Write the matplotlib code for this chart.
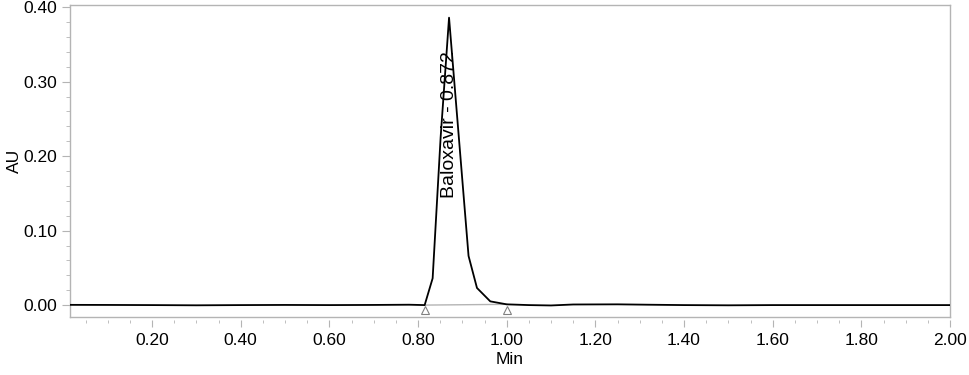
#!/usr/bin/env python3

import matplotlib
matplotlib.use("Agg")
import matplotlib.pyplot as plt
from matplotlib.ticker import MultipleLocator, FormatStrFormatter

plt.rcParams['font.family'] = ['Liberation Sans', 'DejaVu Sans']

# chromatogram trace (min, AU)
time = [0.015, 0.10, 0.20, 0.30, 0.40, 0.50, 0.60, 0.70, 0.78, 0.815,
        0.833, 0.851, 0.870, 0.892, 0.914, 0.933, 0.963, 1.00, 1.05,
        1.10, 1.15, 1.25, 1.32, 1.40, 1.50, 1.60, 1.70, 1.80, 1.90, 2.00]
au = [0.0003, 0.0002, 0.0000, -0.0003, 0.0000, 0.0002, 0.0000, 0.0002, 0.0005, 0.0000,
      0.036, 0.225, 0.386, 0.226, 0.066, 0.023, 0.005, 0.001, 0.000,
      -0.0005, 0.0008, 0.0010, 0.0005, 0.0000, -0.0003, 0.0000, 0.0000, 0.0000, 0.0000, 0.0000]

# peak integration start / end
peak_start = [0.815, 0.0000]
peak_end = [1.00, 0.0010]
peak_name = "Baloxavir"
peak_rt = 0.872

grey = "#b4b4b4"

fig = plt.figure(figsize=(9.69, 3.75), dpi=100)
ax = fig.add_axes([70/969, 1-317/375, 880/969, 312/375])

ax.plot(time, au, color="black", lw=1.3, zorder=3)
ax.plot([peak_start[0], peak_end[0]], [peak_start[1], peak_end[1]],
        color=grey, lw=1.0, zorder=2)
ax.plot([peak_start[0], peak_end[0]], [-0.0065, -0.0065], ls="none", marker="^",
        ms=6, mfc="white", mec="#808080", mew=0.8, zorder=4, clip_on=False)

ax.text(peak_rt, 0.144, "%s - %.3f" % (peak_name, peak_rt), rotation=90,
        ha="center", va="bottom", fontsize=14)

ax.set_xlim(0.015, 2.0)
ax.set_ylim(-0.016, 0.403)

ax.xaxis.set_major_locator(MultipleLocator(0.2))
ax.xaxis.set_minor_locator(MultipleLocator(0.05))
ax.yaxis.set_major_locator(MultipleLocator(0.1))
ax.yaxis.set_minor_locator(MultipleLocator(0.02))
ax.xaxis.set_major_formatter(FormatStrFormatter("%.2f"))
ax.yaxis.set_major_formatter(FormatStrFormatter("%.2f"))

for s in ax.spines.values():
    s.set_color(grey)
    s.set_linewidth(1.0)
ax.spines["bottom"].set_position(("outward", 2.5))
ax.spines["bottom"].set_visible(False)
ax.plot([0, 1], [0, 0], transform=ax.transAxes, color=grey, lw=1.0, clip_on=False)

ax.tick_params(which="both", colors=grey, labelcolor="black", labelsize=12.5)
ax.tick_params(axis="x", which="major", length=5, pad=4)
ax.tick_params(axis="x", which="minor", length=2.5)
ax.tick_params(axis="y", which="major", length=6, pad=3)
ax.tick_params(axis="y", which="minor", length=3)

ax.set_xlabel("Min", fontsize=12.5, labelpad=3)
ax.set_ylabel("AU", fontsize=12.5)
ax.yaxis.set_label_coords(-0.055, 0.5)

plt.savefig("out.png", dpi=100)
